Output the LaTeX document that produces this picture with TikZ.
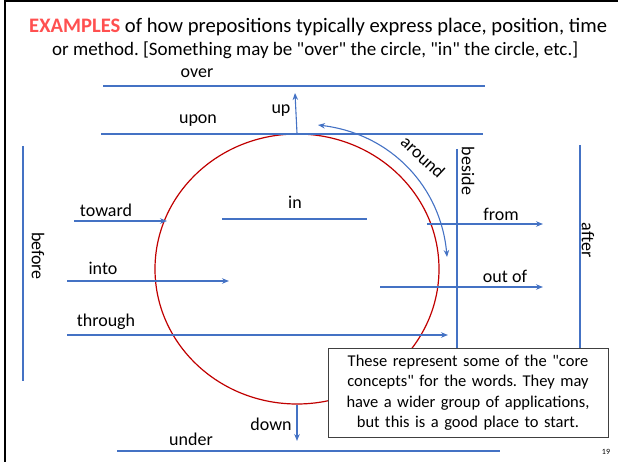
\documentclass[tikz,border=0pt]{standalone}
\usepackage{fontspec}
\setmainfont{Carlito}[Ligatures=TeXOff]
\usetikzlibrary{arrows.meta, shapes.geometric}

\definecolor{prepblue}{HTML}{4472C4}
\definecolor{circred}{HTML}{C00000}
\definecolor{exred}{HTML}{FF5050}
\frenchspacing

\begin{document}
\begin{tikzpicture}[x=1pt, y=-1pt, >={Stealth[length=7pt, width=5.5pt]},
    every node/.style={inner sep=0pt, font=\fontsize{18}{21}\selectfont},
    prep/.style={draw=prepblue, line width=1.1pt},
    vword/.style={rotate=-90}]
\useasboundingbox (0,0) rectangle (618,462);

% Rahmen
\draw[line width=2pt] (5,470) -- (5,1) -- (625,1);

% Titel
\node[anchor=west, font=\fontsize{20.6}{24}\selectfont] (title1) at (29,27)
    {\textcolor{exred}{\textbf{EXAMPLES}} of how prepositions typically express place, position, time};
\node[anchor=west, font=\fontsize{19}{22}\selectfont] (title2) at (52,50)
    {or method. [Something may be "over" the circle, "in" the circle, etc.]};

% Kreis
\node[ellipse, draw=circred, line width=1.2pt, minimum width=284pt, minimum height=270pt] (circ) at (297,269) {};

% Punkte
\coordinate (overA) at (103,86);   \coordinate (overB) at (485,86);
\coordinate (uponA) at (101,134);  \coordinate (uponB) at (483,134);
\coordinate (upTip) at (295,93);
\coordinate (inA) at (222,219);    \coordinate (inB) at (367,219);
\coordinate (towardA) at (74,221); \coordinate (towardB) at (167,221);
\coordinate (intoA) at (67,281);   \coordinate (intoB) at (229,281);
\coordinate (throughA) at (67,335); \coordinate (throughB) at (448,335);
\coordinate (fromA) at (427,224);  \coordinate (fromB) at (543,224);
\coordinate (outA) at (380,287);   \coordinate (outB) at (543,287);
\coordinate (beforeA) at (23,146); \coordinate (beforeB) at (23,381);
\coordinate (besideA) at (457,149); \coordinate (besideB) at (457,350);
\coordinate (afterA) at (580,145); \coordinate (afterB) at (580,350);
\coordinate (downTip) at (297,441);
\coordinate (underA) at (117,451); \coordinate (underB) at (500,451);
\coordinate (aroundA) at (318,125); \coordinate (aroundB) at (447,257);

% Linien
\draw[prep] (overA) -- (overB);
\draw[prep] (uponA) -- (uponB);
\draw[prep] (inA) -- (inB);
\draw[prep] (beforeA) -- (beforeB);
\draw[prep] (besideA) -- (besideB);
\draw[prep] (afterA) -- (afterB);
\draw[prep] (underA) -- (underB);

% Pfeile
\draw[prep, ->] (circ.north) -- (upTip);
\draw[prep, ->] (circ.south) -- (downTip);
\draw[prep, ->] (towardA) -- (towardB);
\draw[prep, ->] (intoA) -- (intoB);
\draw[prep, ->] (throughA) -- (throughB);
\draw[prep, ->] (fromA) -- (fromB);
\draw[prep, ->] (outA) -- (outB);
\draw[prep, <->] (aroundB) .. controls (441,188) and (392,134) .. (aroundA);

% Beschriftungen
\node (over) at (197,73) {over};
\node (upon) at (198,121) {upon};
\node (up) at (281,111) {up};
\node (in) at (295,202) {in};
\node (toward) at (106,210) {toward};
\node (into) at (103,268) {into};
\node (through) at (106,322) {through};
\node (from) at (501,214) {from};
\node (outof) at (505,276) {out of};
\node (down) at (271,424) {down};
\node (under) at (191,439) {under};
\node[rotate=-43] (around) at (423,157) {around};
\node[vword] (before) at (38,256) {before};
\node[vword] (beside) at (468,171) {beside};
\node[vword] (after) at (588,240) {after};

% Hinweis
\node[draw=black!75, line width=1pt, fill=white, minimum width=280pt, minimum height=89pt,
    text width=270pt, align=center, font=\fontsize{16.5}{20.5}\selectfont] (note) at (468,392.5)
    {These represent some of the "core concepts" for the words. They may have a wider group of applications, but this is a good place to start.};

% Seitenzahl
\node[font=\fontsize{8}{9}\selectfont] (page) at (606,452) {19};
\end{tikzpicture}
\end{document}
